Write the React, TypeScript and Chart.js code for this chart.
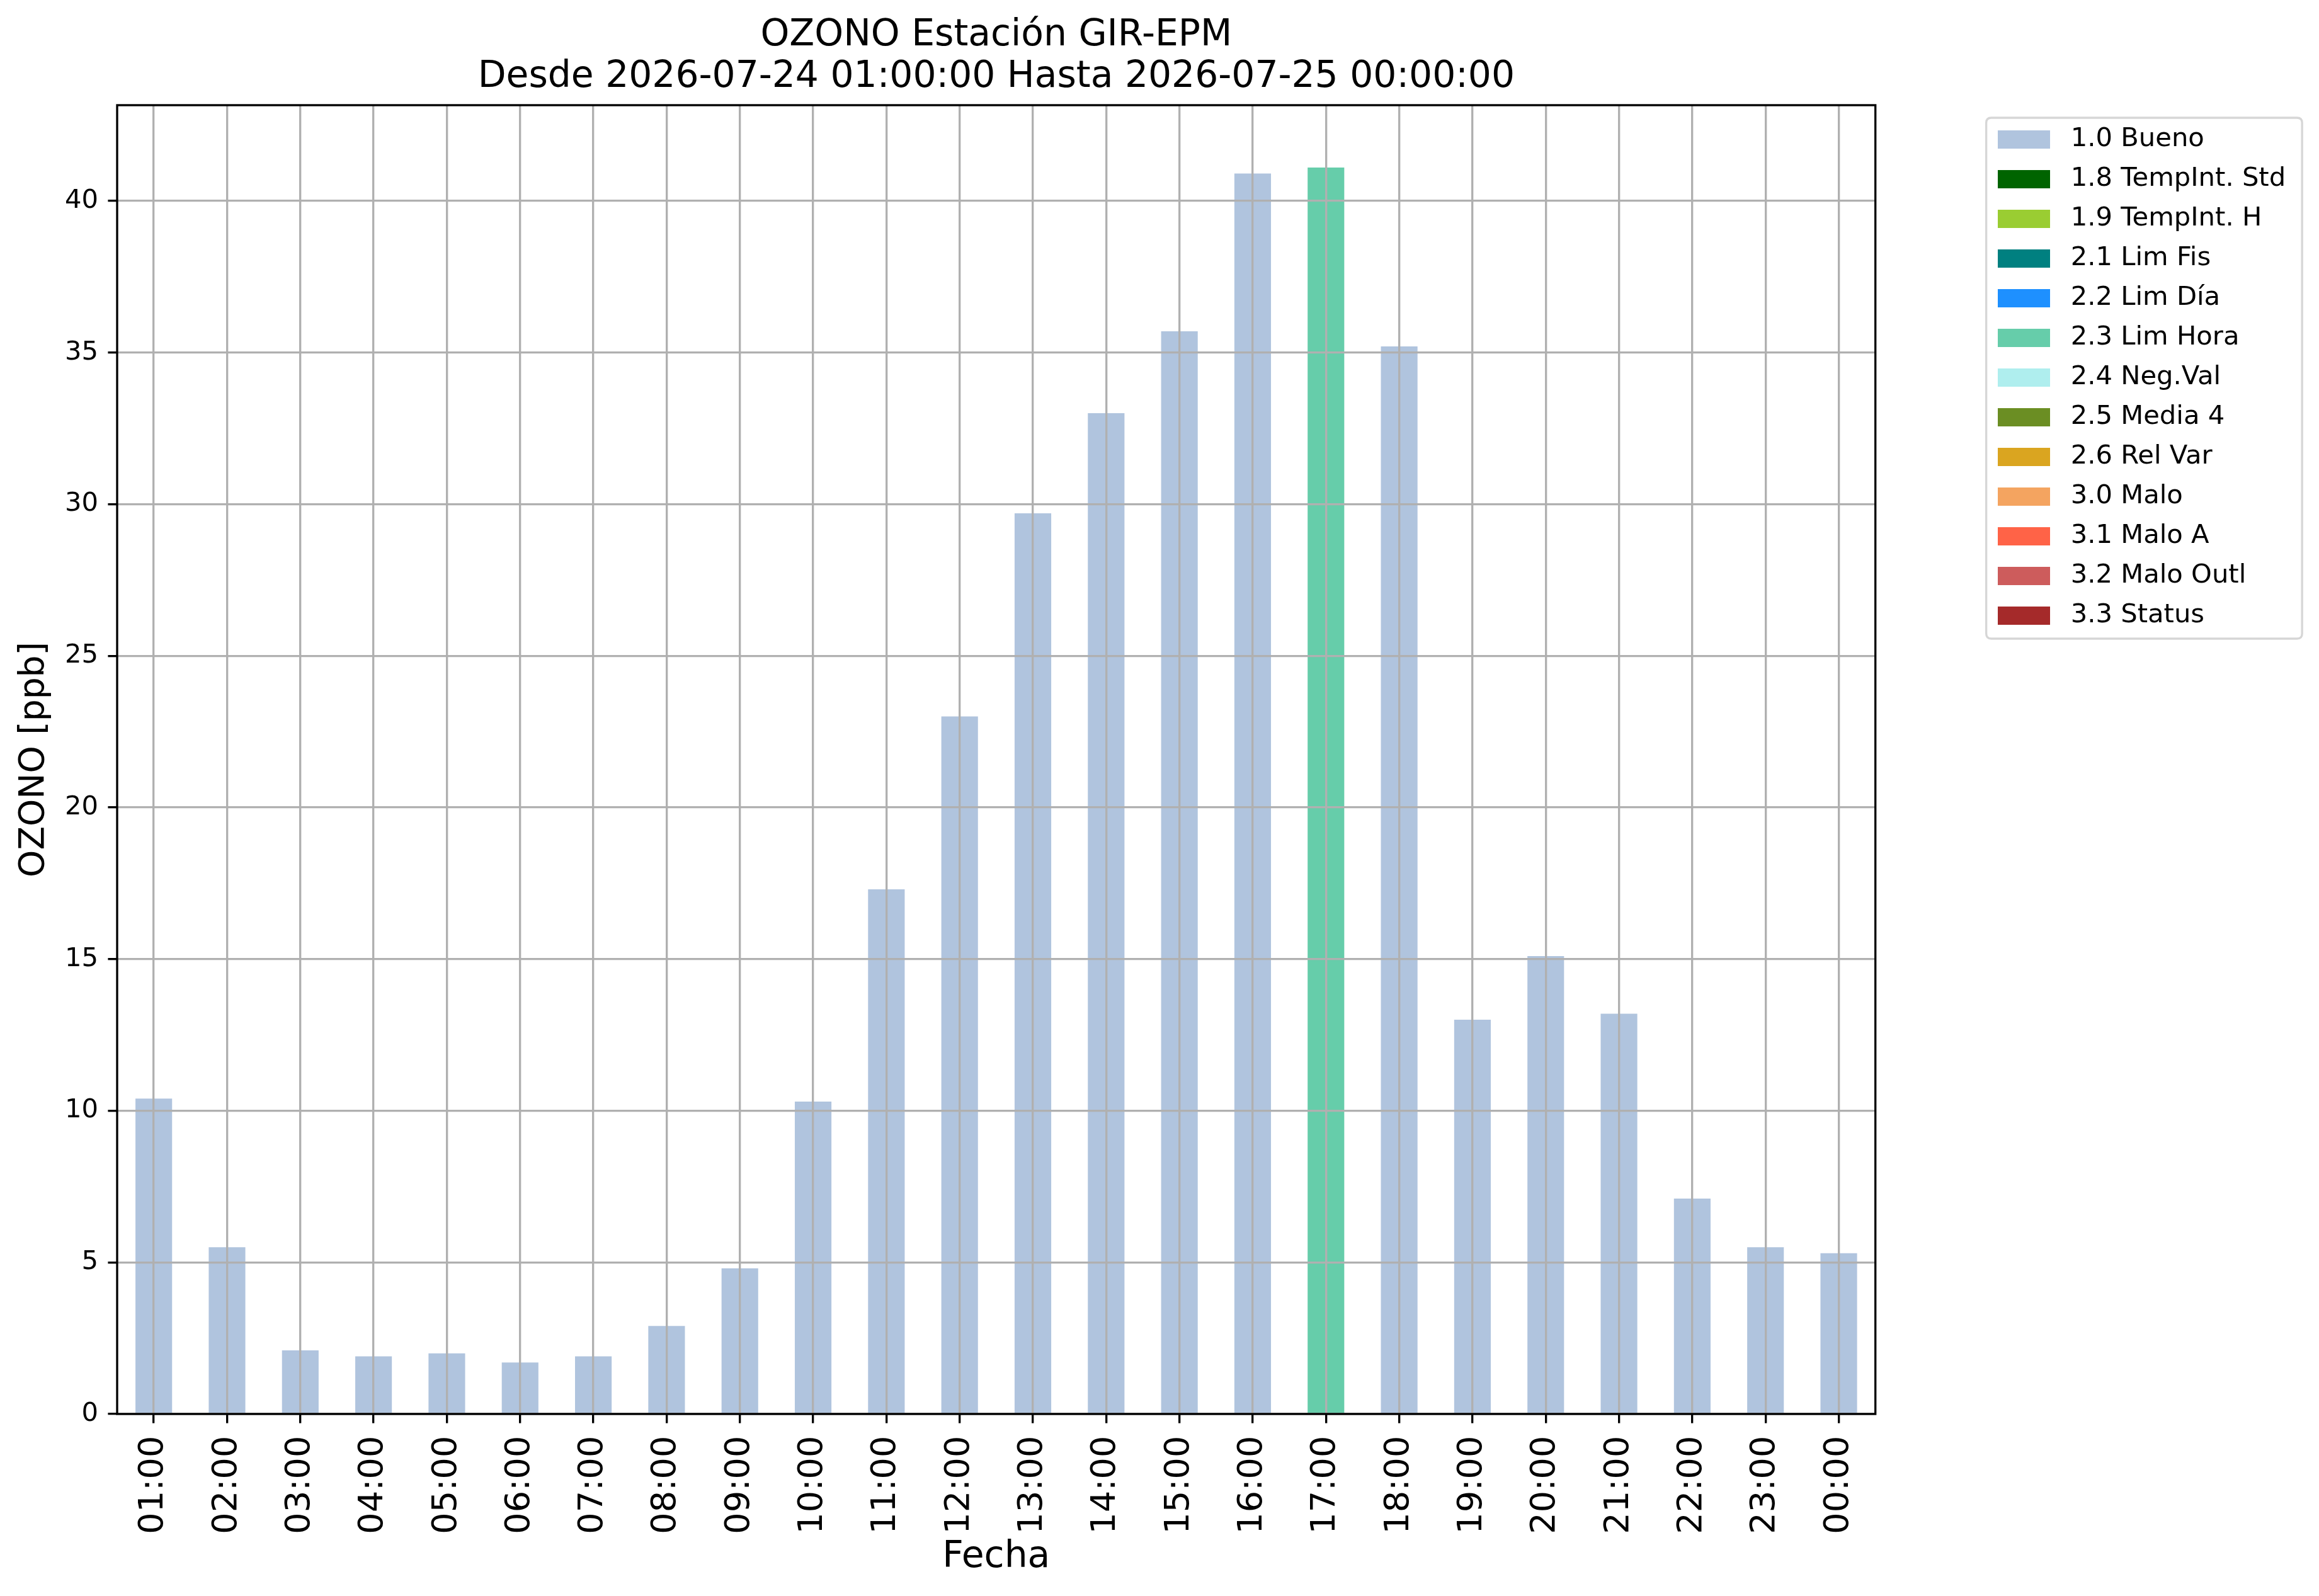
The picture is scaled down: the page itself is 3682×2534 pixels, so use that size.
import { useEffect, useRef } from "react";
import { Chart, registerables } from "chart.js";

Chart.register(...registerables);

const CATEGORIES = [
  "01:00", "02:00", "03:00", "04:00", "05:00", "06:00", "07:00", "08:00",
  "09:00", "10:00", "11:00", "12:00", "13:00", "14:00", "15:00", "16:00",
  "17:00", "18:00", "19:00", "20:00", "21:00", "22:00", "23:00", "00:00",
];

const BUENO = [
  10.4, 5.5, 2.1, 1.9, 2.0, 1.7, 1.9, 2.9,
  4.8, 10.3, 17.3, 23.0, 29.7, 33.0, 35.7, 40.9,
  null, 35.2, 13.0, 15.1, 13.2, 7.1, 5.5, 5.3,
];

const LIM_HORA = [
  null, null, null, null, null, null, null, null,
  null, null, null, null, null, null, null, null,
  41.1, null, null, null, null, null, null, null,
];

const FLAG_LABELS = [
  "1.0 Bueno", "1.8 TempInt. Std", "1.9 TempInt. H", "2.1 Lim Fis",
  "2.2 Lim Día", "2.3 Lim Hora", "2.4 Neg.Val", "2.5 Media 4",
  "2.6 Rel Var", "3.0 Malo", "3.1 Malo A", "3.2 Malo Outl", "3.3 Status",
];

const FLAG_COLORS = [
  "#b0c4de", "#006400", "#9acd32", "#008080",
  "#1e90ff", "#66cdaa", "#afeeee", "#6b8e23",
  "#daa520", "#f4a460", "#ff6347", "#cd5c5c", "#a52a2a",
];

const Y_TICKS = [0, 5, 10, 15, 20, 25, 30, 35, 40];
const Y_MAX = 43.155;

const TITLE_LINES = [
  "OZONO Estación GIR-EPM",
  "Desde 2026-07-24 01:00:00 Hasta 2026-07-25 00:00:00",
];
const X_TITLE = "Fecha";
const Y_TITLE = "OZONO [ppb]";

const FONT = "'DejaVu Sans', 'Liberation Sans', sans-serif";

const BOX_W = 83;
const BOX_H = 29;
const PSW = 107.3; // slot reserved for the legend handle (handle + text pad)

const framePlugin = {
  id: "mplFrames",
  afterDraw(chart: any) {
    const ctx = chart.ctx;
    const a = chart.chartArea;
    ctx.save();
    const lg = chart.legend;
    if (lg && lg.legendHitBoxes && lg.legendHitBoxes.length) {
      const hbs = lg.legendHitBoxes;
      const first = hbs[0];
      const last = hbs[hbs.length - 1];
      const ih = first.height;
      const fc = first.top + ih / 2;
      const lc = last.top + ih / 2;
      let maxRight = 0;
      for (const h of hbs) maxRight = Math.max(maxRight, h.left + h.width);
      const boxLeft = first.left + PSW / 2 - BOX_W / 2;
      const l = boxLeft - 18;
      const t = fc - 34.5;
      const r = maxRight + 26;
      const b = lc + 36.5;
      const rad = 8;
      ctx.beginPath();
      ctx.moveTo(l + rad, t);
      ctx.lineTo(r - rad, t);
      ctx.quadraticCurveTo(r, t, r, t + rad);
      ctx.lineTo(r, b - rad);
      ctx.quadraticCurveTo(r, b, r - rad, b);
      ctx.lineTo(l + rad, b);
      ctx.quadraticCurveTo(l, b, l, b - rad);
      ctx.lineTo(l, t + rad);
      ctx.quadraticCurveTo(l, t, l + rad, t);
      ctx.closePath();
      ctx.strokeStyle = "#d6d6d6";
      ctx.lineWidth = 3.3;
      ctx.stroke();
    }
    ctx.strokeStyle = "#000000";
    ctx.lineWidth = 3.33;
    ctx.strokeRect(a.left, a.top, a.right - a.left, a.bottom - a.top);
    ctx.restore();
  },
};

export default function App() {
  const ref = useRef<HTMLCanvasElement>(null);

  useEffect(() => {
    document.body.style.margin = "0";
    const canvas = ref.current;
    if (!canvas) return;

    const seriesByFlag: Record<string, (number | null)[]> = {
      "1.0 Bueno": BUENO,
      "2.3 Lim Hora": LIM_HORA,
    };

    const datasets = FLAG_LABELS.map((label, i) => ({
      label,
      data: seriesByFlag[label] ?? CATEGORIES.map(() => null),
      backgroundColor: FLAG_COLORS[i],
      borderWidth: 0,
      barPercentage: 0.5,
      categoryPercentage: 1.0,
    }));

    // legend handle swatches (83 x 29 rectangles)
    const swatches = FLAG_COLORS.map((c) => {
      const sw = document.createElement("canvas");
      sw.width = BOX_W;
      sw.height = BOX_H;
      const sctx = sw.getContext("2d")!;
      sctx.fillStyle = c;
      sctx.fillRect(0, 0, BOX_W, BOX_H);
      return sw;
    });

    const gridCommon = {
      display: true,
      color: "#b0b0b0",
      lineWidth: 3.33,
      drawTicks: true,
      tickLength: 14.6,
      tickColor: "#000000",
      tickWidth: 3.33,
      z: 1,
    };

    const baseGenerate = (Chart as any).defaults.plugins.legend.labels.generateLabels;

    const chart = new Chart(canvas, {
      type: "bar",
      data: { labels: CATEGORIES, datasets: datasets as any },
      options: {
        animation: false,
        responsive: false,
        maintainAspectRatio: false,
        devicePixelRatio: 1,
        events: [],
        layout: { padding: { top: 0, left: 0, right: 42.85, bottom: 0 } },
        plugins: {
          title: {
            display: true,
            text: TITLE_LINES,
            color: "#000000",
            fullSize: false,
            font: { family: FONT, size: 58.3, weight: "normal", lineHeight: 1.132 },
            padding: { top: 24, bottom: 11 },
          },
          legend: {
            display: true,
            position: "right",
            align: "start",
            fullSize: false,
            title: {
              display: true,
              text: "",
              font: { family: FONT, size: 10, lineHeight: 1.235 },
              padding: 0,
            },
            labels: {
              usePointStyle: true,
              pointStyleWidth: PSW,
              boxWidth: BOX_W,
              boxHeight: BOX_H,
              padding: 21.3,
              color: "#000000",
              font: { family: FONT, size: 41.7 },
              generateLabels: (c: any) =>
                baseGenerate(c).map((item: any) => ({
                  ...item,
                  pointStyle: swatches[item.datasetIndex],
                })),
            },
          },
          tooltip: { enabled: false },
        },
        scales: {
          x: {
            stacked: true,
            offset: true,
            grid: { ...gridCommon, offset: false },
            border: { display: false },
            ticks: {
              autoSkip: false,
              minRotation: 90,
              maxRotation: 90,
              padding: 20,
              color: "#000000",
              font: { family: FONT, size: 54.2 },
            },
            title: {
              display: true,
              text: X_TITLE,
              color: "#000000",
              font: { family: FONT, size: 58.3, lineHeight: 1.2 },
              padding: { top: 0, bottom: 26 },
            },
            afterFit: (s: any) => {
              s.height = 289;
            },
          },
          y: {
            stacked: true,
            min: 0,
            max: Y_MAX,
            grid: gridCommon,
            border: { display: false },
            ticks: {
              padding: 15.4,
              color: "#000000",
              font: { family: FONT, size: 41.7 },
            },
            afterBuildTicks: (s: any) => {
              s.ticks = Y_TICKS.map((v) => ({ value: v }));
            },
            title: {
              display: true,
              text: Y_TITLE,
              color: "#000000",
              font: { family: FONT, size: 55, lineHeight: 1.2 },
              padding: { top: 22, bottom: 0 },
            },
            afterFit: (s: any) => {
              s.width = 186;
            },
          },
          gap: {
            type: "linear",
            position: "right",
            display: true,
            grid: { display: false },
            ticks: { display: false },
            border: { display: false },
            afterFit: (s: any) => {
              s.width = 160.55;
            },
          },
        },
      } as any,
      plugins: [framePlugin],
    });

    return () => chart.destroy();
  }, []);

  return (
    <canvas
      ref={ref}
      width={3682}
      height={2534}
      style={{ display: "block", width: "3682px", height: "2534px" }}
    />
  );
}
